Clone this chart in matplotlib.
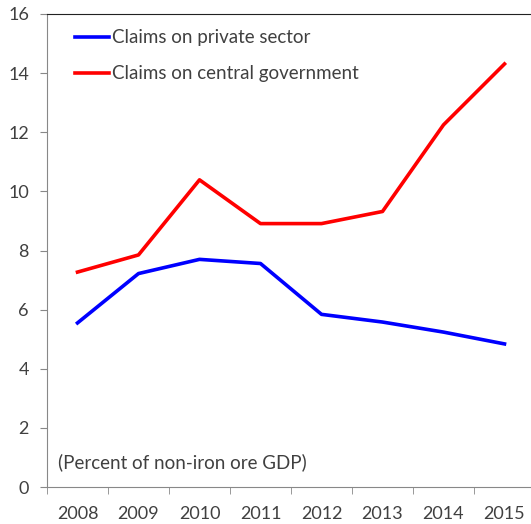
import matplotlib.pyplot as plt
import numpy as np

years = ['2008', '2009', '2010', '2011', '2012', '2013', '2014', '2015']
private_sector = [5.55, 7.22, 7.70, 7.56, 5.84, 5.58, 5.24, 4.84]
central_gov = [7.27, 7.85, 10.39, 8.91, 8.91, 9.32, 12.25, 14.31]

plt.rcParams['font.family'] = ['Lato', 'DejaVu Sans']
txt_col = '#404040'

fig = plt.figure(figsize=(5.31, 5.24), dpi=100)
ax = fig.add_axes([47/531, 37/524, 488/531, 473/524])

x = np.arange(len(years))
ax.plot(x, private_sector, color='#0000ff', lw=2.6, label='Claims on private sector')
ax.plot(x, central_gov, color='#ff0000', lw=2.6, label='Claims on central government')

ax.set_xlim(-0.5, 7.5)
ax.set_ylim(0, 16)
ax.set_yticks(range(0, 17, 2))
ax.set_xticks(x)
ax.set_xticklabels(years)
ax.set_xticks(np.arange(-0.5, 8, 1), minor=True)
ax.tick_params(axis='x', which='major', length=0, pad=14, labelsize=13, labelcolor=txt_col)
ax.tick_params(axis='x', which='minor', length=5, color='#888888', direction='out')
ax.tick_params(axis='y', length=5, color='#888888', labelsize=13, labelcolor=txt_col, pad=8)

for s in ['left', 'bottom']:
    ax.spines[s].set_color('#888888')
ax.spines['top'].set_color('#222222')
ax.spines['right'].set_visible(False)

leg = ax.legend(loc='upper left', bbox_to_anchor=(0.023, 1.003), frameon=False,
                fontsize=13.5, handlelength=1.8, handletextpad=0.15, labelspacing=1.0,
                labelcolor=txt_col)

ax.text(0.023, 0.04, '(Percent of non-iron ore GDP)', transform=ax.transAxes,
        fontsize=13.5, color=txt_col)

fig.savefig('out.png', dpi=100)
